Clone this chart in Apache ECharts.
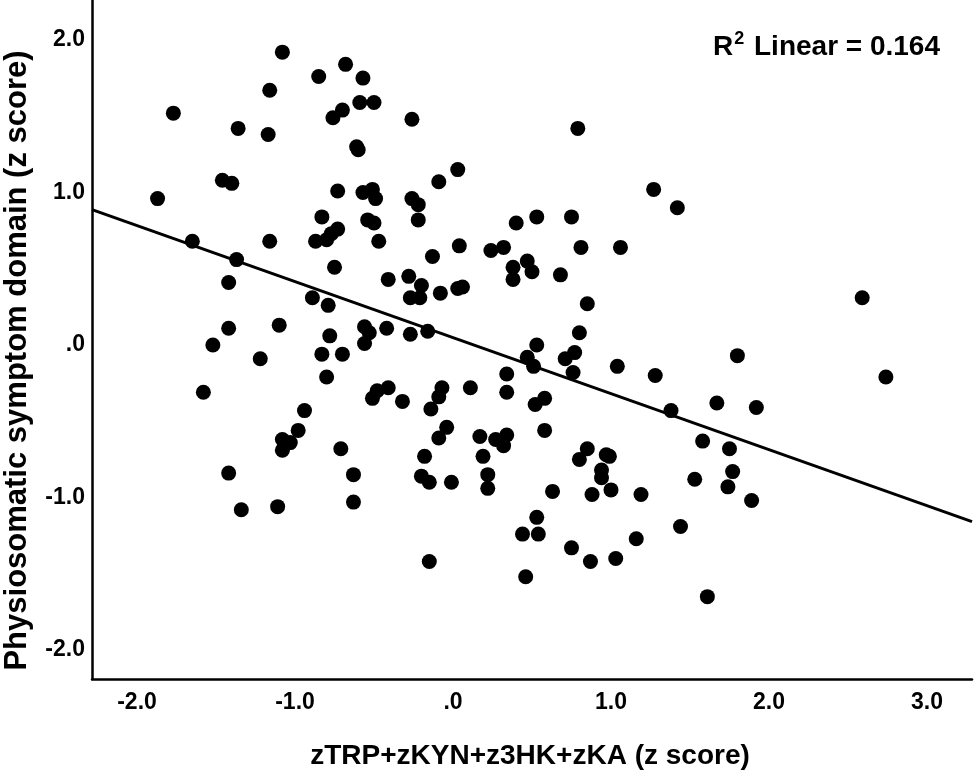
<!DOCTYPE html>
<html>
<head>
<meta charset="utf-8">
<title>Physiosomatic symptom domain vs zTRP+zKYN+z3HK+zKA</title>
<script src="https://cdn.jsdelivr.net/npm/echarts@6/dist/echarts.min.js"></script>
<style>
  html, body { margin: 0; padding: 0; background: #fff; }
  #main { width: 975px; height: 776px; }
</style>
</head>
<body>
<div id="main"></div>
<script>
// x: zTRP+zKYN+z3HK+zKA (z score), y: physiosomatic symptom domain (z score)
var xValues = [
  -1.08, -0.68, -0.85, -0.57, -1.16, -0.59, -0.50, -0.70, -0.76, -1.77,
  -1.36, -1.17, -0.61, -0.60, -1.46, -1.40, -1.87, -0.73, -0.57, -0.51,
  -0.49, -0.83, -0.54, -0.50, -0.73, -0.77, -0.87, -0.80, -0.47, -1.65,
  -1.16, -1.37, -0.75, -1.42, -0.41, -0.89, -0.79, -1.42, -1.10, -0.78,
  -0.56, -0.53, -0.42, -1.52,
  -0.26, 0.79, 0.03, -0.09, -0.26, -0.22, -0.22, 1.27, 1.42, 0.40,
  0.53, 0.75, 0.04, -0.13, 0.24, 0.32, 0.81, 1.06, -0.28, -0.20,
  -0.27, -0.21, -0.08, 0.03, 0.06, 0.38, 0.47, 0.50, 0.38, 0.68,
  0.85, -0.27, -0.16, 0.80, 0.53, 2.59,
  -0.56, -1.22, -0.83, -0.70, -0.80, -1.58, -0.51, -0.48, -0.41, -0.94,
  -0.98, -1.08, -1.03, -1.08, -0.71, -1.42, -0.63, -1.34, -1.11, -0.63,
  0.47, 0.51, 0.77, 0.71, 0.76, 1.04, 1.28, 1.38, 0.34, 0.34,
  0.11, -0.07, -0.09, -0.14, -0.32, -0.04, -0.09, 0.17, 0.34, 0.27,
  0.32, 0.19, 0.22, 0.22, -0.18, -0.20, -0.15, -0.01, 0.52, 0.58,
  0.58, 0.85, 0.80, 0.97, 0.99, 0.94, 0.94, 0.63, 0.88, 1.00,
  1.19, 0.53, 0.44, 0.54, 0.75, 0.87, 1.03, 1.16, 1.44, -0.15,
  0.46,
  1.80, 2.74, 1.67, 1.92, 1.58, 1.75, 1.77, 1.53, 1.74, 1.89, 1.61
];
var yValues = [
  1.92, 1.84, 1.76, 1.75, 1.67, 1.59, 1.59, 1.54, 1.49, 1.52,
  1.42, 1.38, 1.30, 1.28, 1.08, 1.06, 0.96, 1.01, 1.00, 1.02,
  0.96, 0.84, 0.82, 0.80, 0.76, 0.73, 0.68, 0.69, 0.68, 0.68,
  0.68, 0.56, 0.51, 0.41, 0.43, 0.31, 0.26, 0.11, 0.13, 0.06,
  0.12, 0.08, 0.11, 0.00,
  1.48, 1.42, 1.15, 1.07, 0.96, 0.92, 0.82, 1.02, 0.90, 0.80,
  0.84, 0.84, 0.65, 0.58, 0.62, 0.64, 0.64, 0.64, 0.45, 0.39,
  0.31, 0.31, 0.34, 0.37, 0.38, 0.51, 0.55, 0.48, 0.43, 0.46,
  0.27, 0.07, 0.09, 0.08, 0.00, 0.31,
  0.01, -0.09, -0.06, -0.06, -0.21, -0.31, -0.35, -0.30, -0.28, -0.43,
  -0.56, -0.62, -0.64, -0.69, -0.68, -0.84, -0.85, -1.08, -1.06, -1.03,
  -0.08, -0.14, -0.05, -0.09, -0.18, -0.14, -0.20, -0.43, -0.19, -0.31,
  -0.28, -0.28, -0.34, -0.42, -0.37, -0.54, -0.61, -0.60, -0.59, -0.62,
  -0.66, -0.73, -0.85, -0.94, -0.73, -0.86, -0.90, -0.90, -0.39, -0.35,
  -0.56, -0.68, -0.75, -0.72, -0.73, -0.82, -0.87, -0.96, -0.98, -0.95,
  -0.98, -1.13, -1.24, -1.24, -1.33, -1.42, -1.40, -1.27, -1.19, -1.42,
  -1.52,
  -0.07, -0.21, -0.38, -0.41, -0.63, -0.68, -0.83, -0.88, -0.93, -1.02, -1.65
];
var xRange = [-2.285, 3.285];
var yRange = [-2.19, 2.262];
var rSquared = '0.164';

var fontFam = '"Liberation Sans", Arial, sans-serif';

var points = [];
for (var i = 0; i < xValues.length; i++) {
    points.push([xValues[i], yValues[i]]);
}

// least squares fit line
var n = xValues.length, sx = 0, sy = 0, sxx = 0, sxy = 0;
for (var j = 0; j < n; j++) {
    sx += xValues[j];
    sy += yValues[j];
    sxx += xValues[j] * xValues[j];
    sxy += xValues[j] * yValues[j];
}
var slope = (n * sxy - sx * sy) / (n * sxx - sx * sx);
var intercept = (sy - slope * sx) / n;
var fitLine = [
    [xRange[0], intercept + slope * xRange[0]],
    [xRange[1], intercept + slope * xRange[1]]
];

function tickFmt(v) {
    if (Math.abs(v - Math.round(v)) > 1e-6) return '';
    return v === 0 ? '.0' : v.toFixed(1);
}

var myChart = echarts.init(document.getElementById('main'));

var option = {
    backgroundColor: '#fff',
    animation: false,
    textStyle: { fontFamily: fontFam },
    title: {
        left: 713,
        top: 30,
        padding: 0,
        text: '{r|R}{sup|2}{r| Linear = ' + rSquared + '}',
        textStyle: {
            rich: {
                r: { fontFamily: fontFam, fontSize: 28, fontWeight: 'bold', color: '#000', lineHeight: 34 },
                sup: { fontFamily: fontFam, fontSize: 18, fontWeight: 'bold', color: '#000', lineHeight: 34, verticalAlign: 'top', padding: [0, 2, 0, 1] }
            }
        }
    },
    grid: { left: 92, right: 3, top: 0, bottom: 97, containLabel: false, outerBoundsMode: 'none' },
    xAxis: {
        type: 'value',
        min: xRange[0],
        max: xRange[1],
        name: 'zTRP+zKYN+z3HK+zKA (z score)',
        nameLocation: 'middle',
        nameGap: 63,
        nameTextStyle: { fontFamily: fontFam, fontSize: 28, fontWeight: 'bold', color: '#000', padding: [0, 4, 0, 0] },
        axisLine: { show: true, onZero: false, lineStyle: { color: '#000', width: 2.5 } },
        axisTick: { show: false },
        splitLine: { show: false },
        axisLabel: {
            showMinLabel: false,
            showMaxLabel: false,
            margin: 12,
            fontFamily: fontFam,
            fontSize: 23,
            fontWeight: 'bold',
            color: '#000',
            formatter: tickFmt
        }
    },
    yAxis: {
        type: 'value',
        min: yRange[0],
        max: yRange[1],
        name: 'Physiosomatic symptom domain (z score)',
        nameLocation: 'middle',
        nameGap: 59,
        nameTextStyle: { fontFamily: fontFam, fontSize: 31, fontWeight: 'bold', color: '#000', padding: [0, 42, 0, 0] },
        axisLine: { show: true, onZero: false, lineStyle: { color: '#000', width: 2.5 } },
        axisTick: { show: false },
        splitLine: { show: false },
        axisLabel: {
            showMinLabel: false,
            showMaxLabel: false,
            margin: 7,
            fontFamily: fontFam,
            fontSize: 23,
            fontWeight: 'bold',
            color: '#000',
            formatter: tickFmt
        }
    },
    series: [
        {
            type: 'scatter',
            data: points,
            symbol: 'circle',
            symbolSize: 15,
            itemStyle: { color: '#000', opacity: 1 }
        },
        {
            type: 'line',
            data: fitLine,
            showSymbol: false,
            symbol: 'none',
            lineStyle: { color: '#000', width: 3 },
            z: 3
        }
    ]
};

myChart.setOption(option);
</script>
</body>
</html>
